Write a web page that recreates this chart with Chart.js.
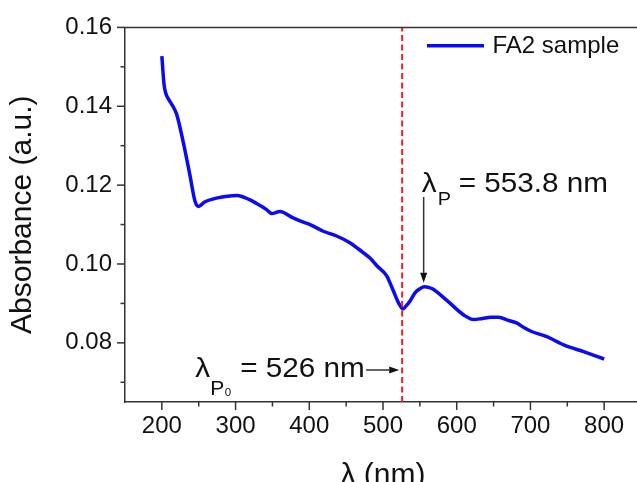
<!DOCTYPE html>
<html>
<head>
<meta charset="utf-8">
<script src="https://cdn.jsdelivr.net/npm/chart.js@4.4.0/dist/chart.umd.min.js"></script>
<style>
  html, body { margin: 0; padding: 0; background: #fff; overflow: hidden; }
  #wrap { width: 645px; height: 497px; }
</style>
</head>
<body>
<div id="wrap"><canvas id="chart" width="645" height="497"></canvas></div>
<script>
// spectrum
const wavelength = [200, 203, 205, 209, 213, 220, 229, 238, 245, 250, 258, 274, 302, 319, 328, 342, 349, 360, 378,
  392, 401, 419, 437, 455, 473, 483, 492, 505, 514, 521, 527, 531, 537, 544, 550, 556, 563, 567, 587,
  610, 623, 635, 646, 657, 670, 682, 690, 700, 723, 746, 773, 800];
const absorbance = [0.1527, 0.1455, 0.1435, 0.1418, 0.1406, 0.1380, 0.1309, 0.1226, 0.1159, 0.1146, 0.1157, 0.1167, 0.1174, 0.1163, 0.1154, 0.1138, 0.1128, 0.1133, 0.1117,
  0.1106, 0.1100, 0.1083, 0.1071, 0.1054, 0.1029, 0.1014, 0.0995, 0.0970, 0.0932, 0.0902, 0.0886, 0.0893, 0.0907, 0.0928, 0.0937, 0.0942, 0.0940, 0.0937, 0.0907,
  0.0870, 0.0859, 0.0862, 0.0865, 0.0865, 0.0857, 0.0850, 0.0840, 0.0830, 0.0815, 0.0794, 0.0777, 0.0759];

const xTickValues = [200, 300, 400, 500, 600, 700, 800];
const xMinorTicks = [250, 350, 450, 550, 650, 750];
const yTickValues = [0.08, 0.10, 0.12, 0.14, 0.16];
const yTickLabels = ['0.08', '0.10', '0.12', '0.14', '0.16'];
const yMinorTicks = [0.07, 0.09, 0.11, 0.13, 0.15];

const dipWavelength = 526;
const peakWavelength = 553.8;
const peakAbsorbance = 0.0942;

const FONT = '"Liberation Sans", Arial, sans-serif';
const INK = '#111';
const AXIS = '#333';

function line(ctx, x1, y1, x2, y2) {
  ctx.beginPath(); ctx.moveTo(x1, y1); ctx.lineTo(x2, y2); ctx.stroke();
}

function arrow(ctx, x1, y1, x2, y2) {
  const a = Math.atan2(y2 - y1, x2 - x1), len = 10, w = 3.5;
  const bx = x2 - len * Math.cos(a), by = y2 - len * Math.sin(a);
  line(ctx, x1, y1, bx, by);
  ctx.beginPath();
  ctx.moveTo(x2, y2);
  ctx.lineTo(bx + w * Math.sin(a), by - w * Math.cos(a));
  ctx.lineTo(bx - w * Math.sin(a), by + w * Math.cos(a));
  ctx.closePath();
  ctx.fill();
}

// the reference text is a little wider than plain Arial, so stretch it sideways
function text(ctx, str, x, y, size, sx) {
  ctx.save();
  ctx.translate(x, y);
  ctx.scale(sx || 1, 1);
  ctx.font = size + 'px ' + FONT;
  ctx.textBaseline = 'alphabetic';
  ctx.textAlign = 'left';
  ctx.fillText(str, 0, 0);
  ctx.restore();
}

const decorations = {
  id: 'decorations',
  afterDraw(chart) {
    const { ctx, chartArea: { left, right, top, bottom }, scales: { x, y } } = chart;
    ctx.save();
    ctx.strokeStyle = AXIS;
    ctx.fillStyle = INK;
    ctx.lineWidth = 1.5;

    // frame top and outward tick marks
    line(ctx, left, top, right, top);
    xTickValues.forEach(v => { const p = x.getPixelForValue(v); line(ctx, p, bottom, p, bottom + 8); });
    xMinorTicks.forEach(v => { const p = x.getPixelForValue(v); line(ctx, p, bottom, p, bottom + 4.5); });
    yTickValues.forEach(v => { const p = y.getPixelForValue(v); line(ctx, left, p, left - 8, p); });
    yMinorTicks.forEach(v => { const p = y.getPixelForValue(v); line(ctx, left, p, left - 4.5, p); });

    // legend
    const ds = chart.data.datasets[0];
    ctx.strokeStyle = ds.borderColor;
    ctx.lineWidth = 3.5;
    line(ctx, 427, 45.7, 484, 45.7);
    ctx.fillStyle = INK;
    ctx.font = '24px ' + FONT;
    ctx.textBaseline = 'middle';
    ctx.fillText(ds.label, 492.5, 46);

    // peak annotation
    ctx.strokeStyle = AXIS;
    ctx.fillStyle = INK;
    ctx.lineWidth = 1.5;
    const px = x.getPixelForValue(peakWavelength);
    const py = y.getPixelForValue(peakAbsorbance);
    arrow(ctx, px + 1, 197, px + 1, py - 4);
    text(ctx, 'λ', px - 1, 192.3, 27, 1.1);
    text(ctx, 'P', px + 15, 205, 18, 1.1);
    text(ctx, '= 553.8 nm', px + 36, 192.3, 27, 1.1);

    // dip annotation
    const dx = x.getPixelForValue(dipWavelength);
    arrow(ctx, dx - 36, 370, dx - 3, 370);
    text(ctx, 'λ', dx - 207, 376.7, 27, 1.1);
    text(ctx, 'P', dx - 192, 395, 20, 1.05);
    text(ctx, '0', dx - 177.5, 396, 11, 1.05);
    text(ctx, '= 526 nm', dx - 162, 376.7, 27, 1.1);

    ctx.restore();
  }
};

new Chart(document.getElementById('chart'), {
  type: 'line',
  data: {
    datasets: [
      {
        label: 'FA2 sample',
        data: wavelength.map((w, i) => ({ x: w, y: absorbance[i] })),
        borderColor: '#0a0af5',
        borderWidth: 3.5,
        pointRadius: 0,
        cubicInterpolationMode: 'monotone',
        order: 1
      },
      {
        label: 'dip',
        data: [{ x: dipWavelength, y: 0.065 }, { x: dipWavelength, y: 0.16 }],
        borderColor: '#f01e1e',
        borderWidth: 2,
        borderDash: [6, 3.5],
        pointRadius: 0,
        order: 0
      }
    ]
  },
  options: {
    responsive: false,
    animation: false,
    layout: { padding: { top: 24, right: 4, left: 0, bottom: 0 } },
    plugins: {
      legend: { display: false },
      tooltip: { enabled: false }
    },
    scales: {
      x: {
        type: 'linear',
        min: 150,
        max: 850,
        afterBuildTicks: (scale) => { scale.ticks = xTickValues.map(v => ({ value: v })); },
        afterFit: (scale) => { scale.height = 95; },
        ticks: {
          autoSkip: false,
          maxRotation: 0,
          padding: 10,
          color: INK,
          font: { family: FONT, size: 24 },
          callback: (v) => String(v)
        },
        grid: { display: false, drawTicks: false },
        border: { display: true, color: AXIS, width: 1.5 },
        title: {
          display: true,
          text: 'λ (nm)',
          color: INK,
          font: { family: FONT, size: 30 },
          padding: { top: 0, bottom: 3 }
        }
      },
      y: {
        type: 'linear',
        min: 0.065,
        max: 0.16,
        afterBuildTicks: (scale) => { scale.ticks = yTickValues.map(v => ({ value: v })); },
        afterFit: (scale) => { scale.width = 125; },
        ticks: {
          padding: 13,
          color: INK,
          font: { family: FONT, size: 24 },
          callback: (v, i) => yTickLabels[i]
        },
        grid: { display: false, drawTicks: false },
        border: { display: true, color: AXIS, width: 1.5 },
        title: {
          display: true,
          text: 'Absorbance (a.u.)',
          color: INK,
          font: { family: FONT, size: 30 },
          padding: { top: 4.5, bottom: 0 }
        }
      }
    }
  },
  plugins: [decorations]
});
</script>
</body>
</html>
